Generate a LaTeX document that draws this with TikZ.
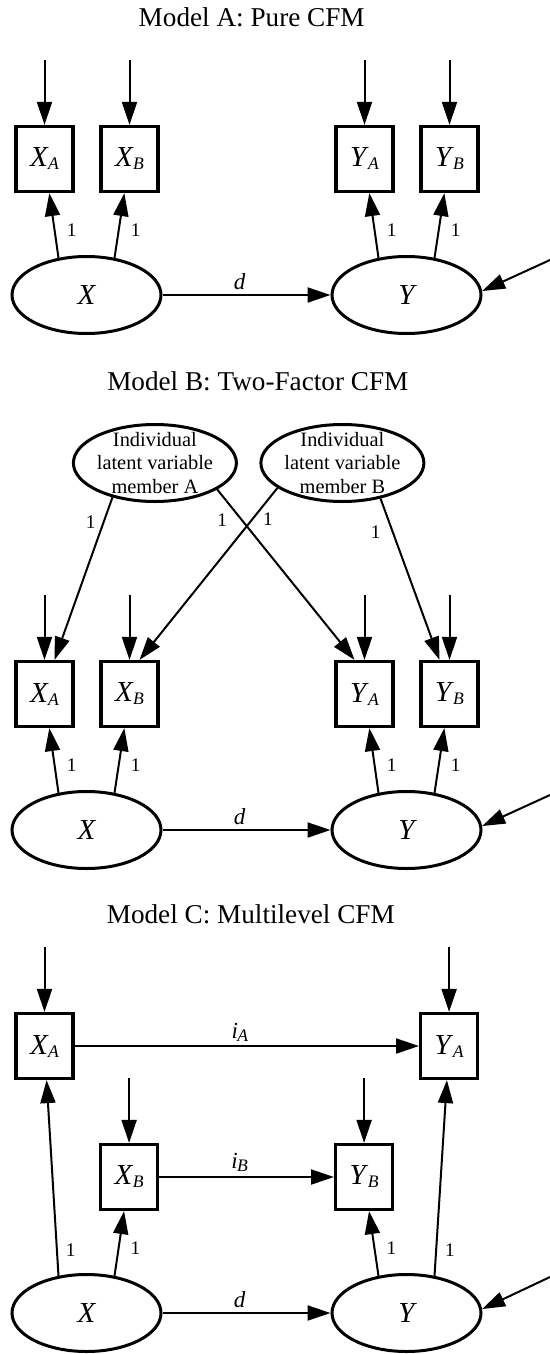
\documentclass[tikz,border=0pt]{standalone}
\usepackage{fontspec}
\setmainfont{Liberation Serif}
\usepackage{tikz}
\usetikzlibrary{arrows.meta,positioning,shapes.geometric}

\newcommand{\mv}[2]{\textit{#1}\kern-0.3pt\raisebox{-1.5pt}{\fontsize{8.8pt}{8.8pt}\selectfont\textit{#2}}}

\begin{document}
\begin{tikzpicture}[
    x=0.5pt, y=-0.5pt,
    node distance=68pt,
    >={Triangle[length=11.5pt,width=7.5pt]},
    title/.style={
		font=\fontsize{13.6pt}{16pt}\selectfont
	},
    obs/.style={
		rectangle,
		draw=black,
		line width=1.6pt,
		minimum width=28.5pt,
		minimum height=32.5pt,
		inner sep=0pt,
		fill=white,
		font=\fontsize{14.5pt}{16pt}\selectfont
	},
    lat/.style={
		ellipse,
		draw=black,
		line width=1.5pt,
		minimum width=74.5pt,
		minimum height=38.5pt,
		fill=white,
		font=\fontsize{14.5pt}{16pt}\selectfont\itshape
	},
    indiv/.style={
		ellipse,
		draw=black,
		line width=1.5pt,
		minimum width=81.5pt,
		minimum height=38.5pt,
		inner sep=0pt
	},
    arr/.style={
		->,
		line width=1pt
	},
    coef/.style={
		font=\fontsize{11.5pt}{13pt}\selectfont\itshape,
		inner sep=2pt,
		xshift=-3.5pt
	},
    one/.style={
		font=\fontsize{9.6pt}{11pt}\selectfont,
		inner sep=2pt
	}
  ]
  \fill[white] (0,0) rectangle (550,1354);
  \useasboundingbox (0,0) rectangle (550,1354);

  % Model A
  \node [title] (ttla) at (251.7,17.5) {Model A: Pure CFM};
  \node [lat] (lx1) at (86.5,295) {X};
  \node [lat] (ly1) at (406.5,295) {Y};
  \node [obs, above of=lx1, xshift=-21pt] (xa1) {\mv{X}{A}};
  \node [obs, above of=lx1, xshift=21.5pt] (xb1) {\mv{X}{B}};
  \node [obs, above of=ly1, xshift=-21pt] (ya1) {\mv{Y}{A}};
  \node [obs, above of=ly1, xshift=21.5pt] (yb1) {\mv{Y}{B}};

  \draw [arr] (lx1.127) -- node [one, pos=0.42, right=3.6pt] {1} (xa1);
  \draw [arr] (lx1.53) -- node [one, pos=0.42, right=3.6pt] {1} (xb1);
  \draw [arr] (ly1.127) -- node [one, pos=0.42, right=3.6pt] {1} (ya1);
  \draw [arr] (ly1.53) -- node [one, pos=0.42, right=3.6pt] {1} (yb1);
  \draw [arr] (lx1) -- node [coef, above] {d} (ly1);
  \coordinate (ey1) at (550,260);
  \draw [arr] (ey1) -- (ly1.3);

  % Model B
  \node [title] (ttlb) at (257.8,381) {Model B: Two-Factor CFM};
  \node [indiv, label={[align=center, font=\fontsize{10.2pt}{11.65pt}\selectfont]center:Individual\\latent variable\\member A}] (inda) at (154.9,463) {};
  \node [indiv, label={[align=center, font=\fontsize{10.2pt}{11.65pt}\selectfont]center:Individual\\latent variable\\member B}] (indb) at (342.4,463) {};
  \node [lat] (lx2) at (86.5,830) {X};
  \node [lat] (ly2) at (406.5,830) {Y};
  \node [obs, above of=lx2, xshift=-21pt] (xa2) {\mv{X}{A}};
  \node [obs, above of=lx2, xshift=21.5pt] (xb2) {\mv{X}{B}};
  \node [obs, above of=ly2, xshift=-21pt] (ya2) {\mv{Y}{A}};
  \node [obs, above of=ly2, xshift=21.5pt] (yb2) {\mv{Y}{B}};

  \draw [arr] (inda.219) -- node [one, pos=0.15, left=1.6pt] {1} ([xshift=5pt]xa2.north);
  \draw [arr] (inda.337) -- node [one, pos=0.18, left=5pt] {1} ([xshift=-5pt]ya2.north);
  \draw [arr] (indb.201) -- node [one, pos=0.18, right=2.7pt] {1} ([xshift=5pt]xb2.north);
  \draw [arr] (indb.317) -- node [one, pos=0.21, left=3.7pt] {1} ([xshift=-5pt]yb2.north);

  \draw [arr] (lx2.127) -- node [one, pos=0.42, right=3.6pt] {1} (xa2);
  \draw [arr] (lx2.53) -- node [one, pos=0.42, right=3.6pt] {1} (xb2);
  \draw [arr] (ly2.127) -- node [one, pos=0.42, right=3.6pt] {1} (ya2);
  \draw [arr] (ly2.53) -- node [one, pos=0.42, right=3.6pt] {1} (yb2);
  \draw [arr] (lx2) -- node [coef, above] {d} (ly2);
  \coordinate (ey2) at (550,795);
  \draw [arr] (ey2) -- (ly2.3);

  % Model C
  \node [title] (ttlc) at (250.8,914) {Model C: Multilevel CFM};
  \node [lat] (lx3) at (86.5,1313) {X};
  \node [lat] (ly3) at (406.5,1313) {Y};
  \node [obs, node distance=133.5pt, above of=lx3, xshift=-21pt] (xa3) {\mv{X}{A}};
  \node [obs, above of=lx3, xshift=21.3pt] (xb3) {\mv{X}{B}};
  \node [obs, node distance=133.5pt, above of=ly3, xshift=21.3pt] (ya3) {\mv{Y}{A}};
  \node [obs, above of=ly3, xshift=-21.2pt] (yb3) {\mv{Y}{B}};

  \draw [arr] (lx3.127) -- node [one, pos=0.13, right=2pt] {1} (xa3);
  \draw [arr] (lx3.53) -- node [one, pos=0.42, right=3.6pt] {1} (xb3);
  \draw [arr] (ly3.127) -- node [one, pos=0.42, right=3.6pt] {1} (yb3);
  \draw [arr] (ly3.53) -- node [one, pos=0.13, right=2pt] {1} (ya3);
  \draw [arr] (xa3) -- node [coef, above] {\mv{i}{A}} (ya3);
  \draw [arr] (xb3) -- node [coef, above] {\mv{i}{B}} (yb3);
  \draw [arr] (lx3) -- node [coef, above] {d} (ly3);
  \coordinate (ey3) at (550,1277);
  \draw [arr] (ey3) -- (ly3.3);

  % error terms
  \foreach \n in {xa1,xb1,ya1,yb1,xa2,xb2,ya2,yb2,xa3,xb3,ya3,yb3}
  {
    \coordinate (e\n) at ([yshift=32.5pt]\n.north);
    \draw [arr] (e\n) -- (\n);
  }

\end{tikzpicture}
\end{document}
